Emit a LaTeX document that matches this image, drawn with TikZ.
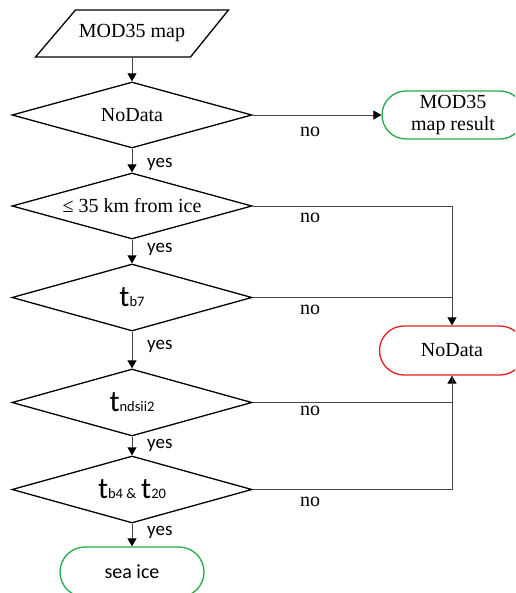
\documentclass[tikz,border=0pt]{standalone}
\usepackage{fontspec}
\setmainfont{Liberation Serif}
\newfontfamily\carl{Carlito}
\usetikzlibrary{shapes.geometric,shapes.misc,arrows.meta}
\definecolor{termgreen}{RGB}{34,170,70}
\definecolor{termred}{RGB}{230,30,30}
\definecolor{connc}{RGB}{70,70,70}
\newcommand\tbig{{\carl\fontsize{30}{30}\selectfont t}}
\newcommand\tsmall[1]{{\carl\fontsize{14.5}{15}\selectfont #1}}
\begin{document}
\begin{tikzpicture}[x=1pt,y=-1pt,
  font=\fontsize{20}{22}\selectfont,
  dec/.style={diamond, shape aspect=3.6, draw=black, line width=1.3pt, minimum width=240pt, minimum height=66pt, inner sep=0pt},
  term/.style={rounded rectangle, line width=1.3pt, align=center, inner sep=0pt},
  conn/.style={draw=connc, line width=0.9pt},
  arr/.style={conn, -{Triangle[length=8pt,width=9pt,color=black]}},
  yeslab/.style={anchor=west, font=\carl\fontsize{19}{20}\selectfont, inner sep=0pt},
  nolab/.style={inner sep=0pt}]
\useasboundingbox (0,0) rectangle (515,593);
\clip (0,0) rectangle (515,593);
% input
\node[minimum height=47pt, inner sep=0pt] (map) at (132,33.5) {MOD35 map};
\draw[line width=1.3pt, line join=miter] ([shift={(-96.5,23.5)}]map.center) -- ([shift={(-56.5,-23.5)}]map.center) -- ([shift={(96.5,-23.5)}]map.center) -- ([shift={(58.5,23.5)}]map.center) -- cycle;
% decisions
\node[dec] (d1) at (132,115) {NoData};
\node[dec] (d2) at (132,206) {≤ 35 km from ice};
\node[dec, minimum height=67pt] (d3) at (132,297.5) {\tbig\tsmall{b7}};
\node[dec, minimum height=67pt] (d4) at (132,402.5) {\tbig\tsmall{ndsii2}};
\node[dec, minimum height=67pt] (d5) at (132,489.5) {\tbig\tsmall{b4 \&} \tbig\tsmall{20}};
% terminals
\node[term, draw=termgreen, minimum width=142pt, minimum height=48pt] (res) at (453,115) {MOD35\\map result};
\node[term, draw=termred, minimum width=145pt, minimum height=49pt] (nod) at (452,350.5) {NoData};
\node[term, draw=termgreen, minimum width=144pt, minimum height=50pt, font=\carl\fontsize{20}{22}\selectfont] (sea) at (132,572) {sea ice};
% vertical flow
\draw[arr] (map.south) -- (d1.north);
\draw[arr] (d1.south) -- (d2.north);
\draw[arr] (d2.south) -- (d3.north);
\draw[arr] (d3.south) -- (d4.north);
\draw[arr] (d4.south) -- (d5.north);
\draw[arr] (d5.south) -- (sea.north);
% no branches
\draw[arr] (d1.east) -- (res.west);
\draw[arr] (d2.east) -| (nod.north);
\coordinate (j3) at (d3.east -| nod.north);
\draw[conn] (d3.east) -- (j3);
\draw[arr] (d4.east) -| (nod.south);
\draw[conn] (d5.east) -| (nod.south);
% labels
\node[yeslab] (y1) at (147,164) {yes};
\node[yeslab] (y2) at (147,249) {yes};
\node[yeslab] (y3) at (147,346) {yes};
\node[yeslab] (y4) at (147,445) {yes};
\node[yeslab] (y5) at (147,532) {yes};
\node[nolab] (n1) at (310,132) {no};
\node[nolab] (n2) at (310,218) {no};
\node[nolab] (n3) at (310,310) {no};
\node[nolab] (n4) at (310,411) {no};
\node[nolab] (n5) at (310,502) {no};
\end{tikzpicture}
\end{document}
